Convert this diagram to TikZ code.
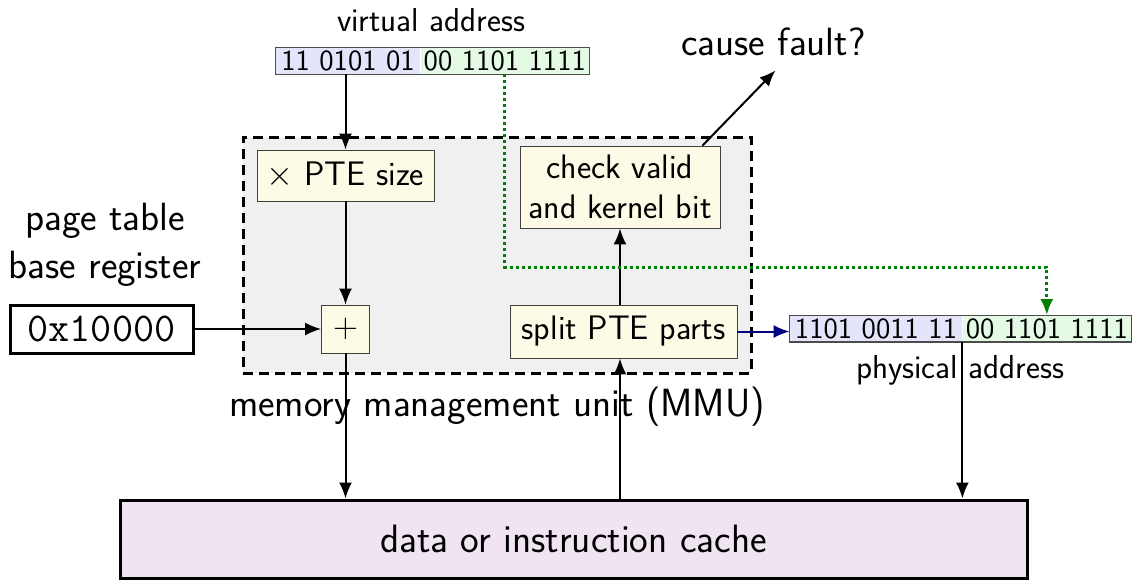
\documentclass[tikz,border=0pt]{standalone}
\usetikzlibrary{positioning,arrows.meta}
\renewcommand{\familydefault}{\sfdefault}
\definecolor{opfill}{HTML}{FDFAE6}
\definecolor{pnfill}{HTML}{E4E4FA}
\definecolor{offfill}{HTML}{E4FAE4}
\definecolor{cachefill}{HTML}{F0E4F2}
\definecolor{mmufill}{HTML}{F0F0F0}
\definecolor{offgreen}{HTML}{008000}
\definecolor{pnblue}{HTML}{000080}
\tikzset{
  opbox/.style={draw=black!75,fill=opfill,inner sep=0pt,font=\fontsize{17}{20}\selectfont},
  pnpart/.style={fill=pnfill,inner sep=0pt,minimum height=13pt,font=\fontsize{14.6}{16}\selectfont},
  offpart/.style={fill=offfill,inner sep=0pt,minimum height=13pt,font=\fontsize{14.6}{16}\selectfont},
  lbl/.style={inner sep=0pt,font=\fontsize{16.6}{19}\selectfont},
  biglbl/.style={inner sep=0pt,font=\fontsize{19.7}{24}\selectfont},
  conn/.style={-{Latex[length=8pt,width=6.5pt]},line width=1pt},
}
\begin{document}
\begin{tikzpicture}[x=0.5pt,y=-0.5pt]
  \useasboundingbox (0,0) rectangle (1133,580);
  % mmu outline
  \node[draw,fill=mmufill,line width=1.5pt,dash pattern=on 5pt off 3pt,
        minimum width=254pt,minimum height=118pt] (mmu) at (497,255) {};
  \node[biglbl] (mmulbl) at (497,407) {memory management unit (MMU)};
  % addresses
  \node[lbl] (valbl) at (431,20) {virtual address};
  \node[pnpart,minimum width=72pt] (vaHi) at (348,61) {11 0101 01};
  \node[offpart,minimum width=84pt,right=0pt of vaHi] (vaLo) {00 1101 1111};
  \draw[black!70,line width=0.6pt] (vaHi.north west) rectangle (vaLo.south east);
  \node[pnpart,minimum width=86pt] (paHi) at (876,328.5) {1101 0011 11};
  \node[offpart,minimum width=84pt,right=0pt of paHi] (paLo) {00 1101 1111};
  \draw[black!70,line width=0.6pt] (paHi.north west) rectangle (paLo.south east);
  \node[lbl] (palbl) at (960,370) {physical address};
  % boxes in the mmu
  \node[opbox,minimum width=88.5pt,minimum height=25.5pt] (pte) at (345.5,175.5) {$\times$ PTE size};
  \node[opbox,minimum width=24pt,minimum height=24pt] (plus) at (345.5,329) {$+$};
  \node[opbox,minimum width=100pt,minimum height=41pt,align=center] (check) at (620,187)
    {check valid\\and kernel bit};
  \node[opbox,minimum width=113.5pt,minimum height=26.5pt] (split) at (623.5,331.5) {split PTE parts};
  % outside
  \node[biglbl,align=center] (ptbrlbl) at (105,245) {page table\\base register};
  \node[draw,line width=1.5pt,inner sep=0pt,minimum width=91.5pt,minimum height=24pt,
        font=\fontsize{20.5}{24}\ttfamily] (ptbr) at (101.5,329) {0x10000};
  \node[biglbl] (fault) at (773.5,42) {cause fault?};
  \node[draw,fill=cachefill,line width=1.5pt,minimum width=453.5pt,minimum height=39pt,
        font=\fontsize{19.8}{24}\selectfont] (cache) at (573.5,539) {data or instruction cache};
  % connectors
  \draw[conn] (pte.north |- vaHi.south) -- (pte.north);
  \draw[conn] (pte) -- (plus);
  \draw[conn] (ptbr) -- (plus);
  \draw[conn] (plus) -- (plus |- cache.north);
  \draw[conn] (check.south |- cache.north) -- (check.south |- split.south);
  \draw[conn] (split.north -| check.south) -- (check.south);
  \draw[conn] ([xshift=-9pt]check.north east) -- ([xshift=1pt,yshift=-7pt]fault.south);
  \draw[conn,pnblue] (split.east) -- (split.east -| paHi.west);
  \draw[conn] (paHi.south east) -- (paHi.south east |- cache.north);
  \draw[conn,offgreen,line width=1.5pt,dash pattern=on 1.5pt off 1.5pt]
    (vaLo.south) -- (vaLo.south |- 0,267) -| (paLo.north);
\end{tikzpicture}
\end{document}
